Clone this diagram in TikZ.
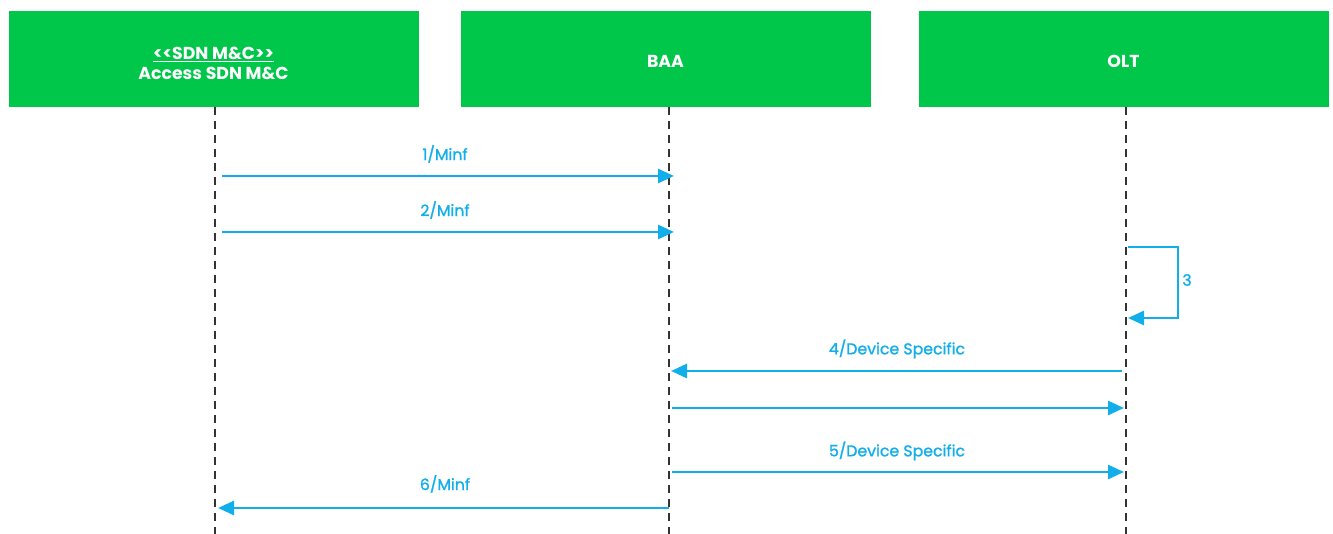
\documentclass[tikz,border=0pt]{standalone}
\usepackage{fontspec}
\setmainfont{Poppins}
\newfontfamily\lblfont{Poppins}[FakeBold=1.2]
\usetikzlibrary{arrows.meta}
\definecolor{boxgreen}{HTML}{00C64A}
\definecolor{msgblue}{HTML}{12AEEA}
\definecolor{lifegray}{HTML}{333333}
\begin{document}
\begin{tikzpicture}[x=0.75pt,y=-0.75pt,
  actor/.style={fill=boxgreen,draw=none,minimum width=307.5pt,minimum height=72pt,inner sep=0pt,text=white,font=\bfseries\fontsize{13}{16}\selectfont,align=center},
  life/.style={draw=lifegray,line width=1.6pt,dash pattern=on 6pt off 4.5pt},
  msg/.style={draw=msgblue,line width=2.1pt,-{Triangle[length=12pt,width=10.5pt]}},
  lbl/.style={text=msgblue,font=\lblfont\fontsize{11.8}{13}\selectfont,inner sep=0pt}]
\useasboundingbox (0,0) rectangle (1333,534);
\node[actor] (sdn) at (213.5,59) {\raisebox{-7.35pt}[0pt][0pt]{\begin{tabular}[c]{@{}c@{}}\underline{{<}{<}SDN M\&C{>}{>}}\\[-1pt]Access SDN M\&C\end{tabular}}};
\node[actor] (baa) at (665.5,59) {\raisebox{-6.75pt}[0pt][0pt]{BAA}};
\node[actor] (olt) at (1123.5,59) {\raisebox{-6.75pt}[0pt][0pt]{OLT}};
\coordinate (sdnE) at (215,534);
\coordinate (baaE) at (669,534);
\coordinate (oltE) at (1126,534);
\draw[life] (sdn.south -| sdnE) -- (sdnE);
\draw[life] (baa.south -| baaE) -- (baaE);
\draw[life] (olt.south -| oltE) -- (oltE);
% messages
\coordinate (a1) at (222,176); \coordinate (b1) at (674,176);
\draw[msg] (a1) -- (b1);
\node[lbl] (l1) at (445,154) {1/Minf};
\coordinate (a2) at (222,232); \coordinate (b2) at (674,232);
\draw[msg] (a2) -- (b2);
\node[lbl] (l2) at (445,210) {2/Minf};
\coordinate (s1) at (1128,247); \coordinate (s2) at (1178,247);
\coordinate (s3) at (1178,318); \coordinate (s4) at (1128,318);
\draw[msg,line cap=butt] (s1) -- (s2) -- (s3) -- (s4);
\node[lbl] (l3) at (1187,280) {3};
\coordinate (a4) at (1122,371); \coordinate (b4) at (671,371);
\draw[msg] (a4) -- (b4);
\node[lbl] (l4) at (897,349) {4/Device Specific};
\coordinate (a5) at (672,408); \coordinate (b5) at (1124,408);
\draw[msg] (a5) -- (b5);
\coordinate (a6) at (672,472); \coordinate (b6) at (1124,472);
\draw[msg] (a6) -- (b6);
\node[lbl] (l5) at (897,451) {5/Device Specific};
\coordinate (a7) at (669,508); \coordinate (b7) at (218,508);
\draw[msg] (a7) -- (b7);
\node[lbl] (l6) at (445,484) {6/Minf};
\end{tikzpicture}
\end{document}
